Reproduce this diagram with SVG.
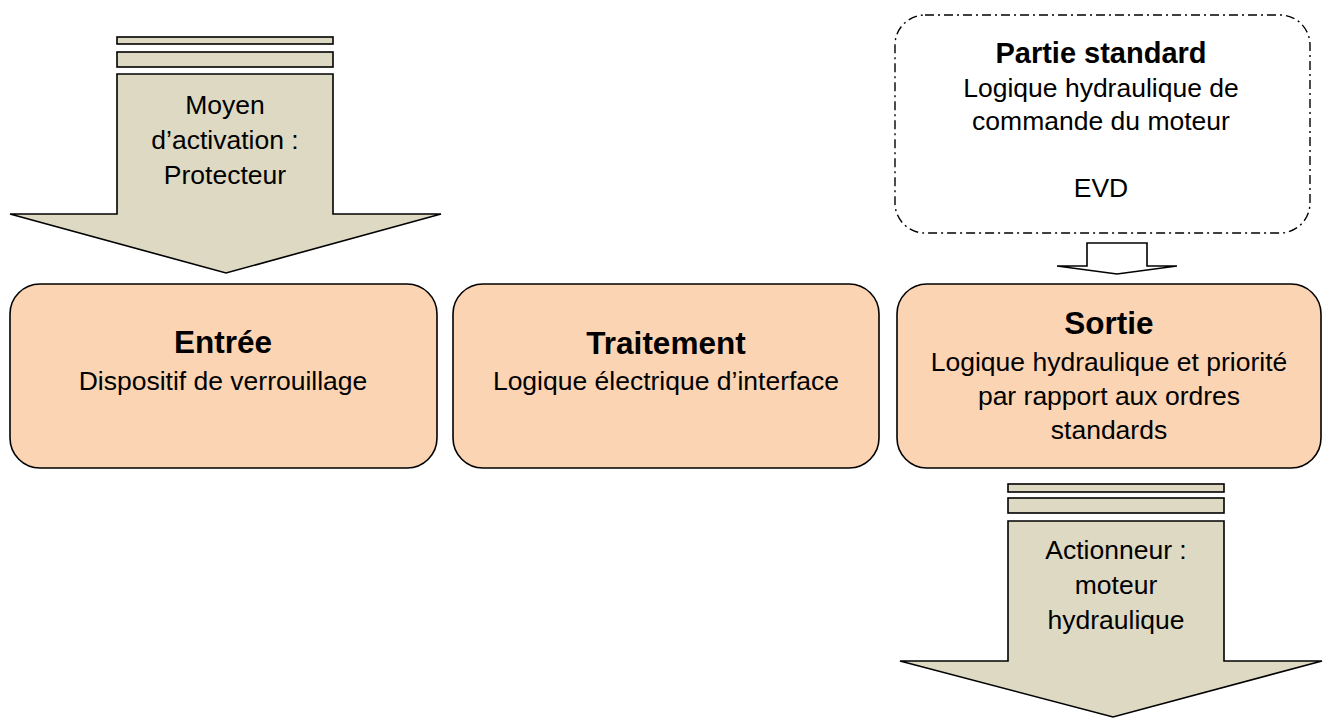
<svg xmlns="http://www.w3.org/2000/svg" width="1323" height="718" viewBox="0 0 1323 718">
<style>
.box{fill:#FBD4B4;stroke:#000;stroke-width:1.6}
.arr{fill:#DDD9C3;stroke:#000;stroke-width:1.6;stroke-linejoin:miter}
.dash{fill:#fff;stroke:#000;stroke-width:1.4;stroke-dasharray:9 4 2 4}
.t{font-family:"Liberation Sans",Arial,sans-serif;font-size:26.5px;fill:#000;text-anchor:middle}
.b{font-family:"Liberation Sans",Arial,sans-serif;font-size:31.5px;font-weight:bold;fill:#000;text-anchor:middle}
.b2{font-family:"Liberation Sans",Arial,sans-serif;font-size:29px;font-weight:bold;fill:#000;text-anchor:middle}
</style>
<rect width="1323" height="718" fill="#fff"/>
<g id="connectors">
  <g id="arrow-activation">
    <rect class="arr" x="117" y="37" width="216" height="7"/>
    <rect class="arr" x="117" y="52" width="216" height="15"/>
    <polygon class="arr" points="117,74 333,74 333,214 441,214 226,273 10,214 117,214"/>
    <text class="t" x="225" y="114">Moyen</text>
    <text class="t" x="225" y="149">d’activation :</text>
    <text class="t" x="225" y="184">Protecteur</text>
  </g>
  <g id="arrow-standard">
    <polygon points="1087,243 1147,243 1147,266 1177,266 1117,274 1057,266 1087,266" fill="#fff" stroke="#000" stroke-width="1.6"/>
  </g>
  <g id="arrow-actionneur">
    <rect class="arr" x="1008" y="484" width="216" height="8"/>
    <rect class="arr" x="1008" y="498" width="216" height="15"/>
    <polygon class="arr" points="1008,521 1224,521 1224,661 1322,661 1113,717 900,661 1008,661"/>
    <text class="t" x="1116" y="559">Actionneur :</text>
    <text class="t" x="1116" y="594">moteur</text>
    <text class="t" x="1116" y="629">hydraulique</text>
  </g>
</g>
<g id="node-standard">
  <rect class="dash" x="895" y="15" width="415" height="218" rx="30" ry="30"/>
  <text class="b2" x="1101" y="63">Partie standard</text>
  <text class="t" x="1101" y="97">Logique hydraulique de</text>
  <text class="t" x="1101" y="130">commande du moteur</text>
  <text class="t" x="1101" y="197">EVD</text>
</g>
<g id="node-entree">
  <rect class="box" x="10" y="284" width="427" height="184" rx="30" ry="30"/>
  <text class="b" x="223" y="353">Entrée</text>
  <text class="t" x="223" y="390">Dispositif de verrouillage</text>
</g>
<g id="node-traitement">
  <rect class="box" x="453" y="284" width="426" height="184" rx="30" ry="30"/>
  <text class="b" x="666" y="354">Traitement</text>
  <text class="t" x="666" y="390">Logique électrique d’interface</text>
</g>
<g id="node-sortie">
  <rect class="box" x="897" y="284" width="424" height="184" rx="30" ry="30"/>
  <text class="b" x="1109" y="334">Sortie</text>
  <text class="t" x="1109" y="371">Logique hydraulique et priorité</text>
  <text class="t" x="1109" y="405">par rapport aux ordres</text>
  <text class="t" x="1109" y="439">standards</text>
</g>
</svg>
